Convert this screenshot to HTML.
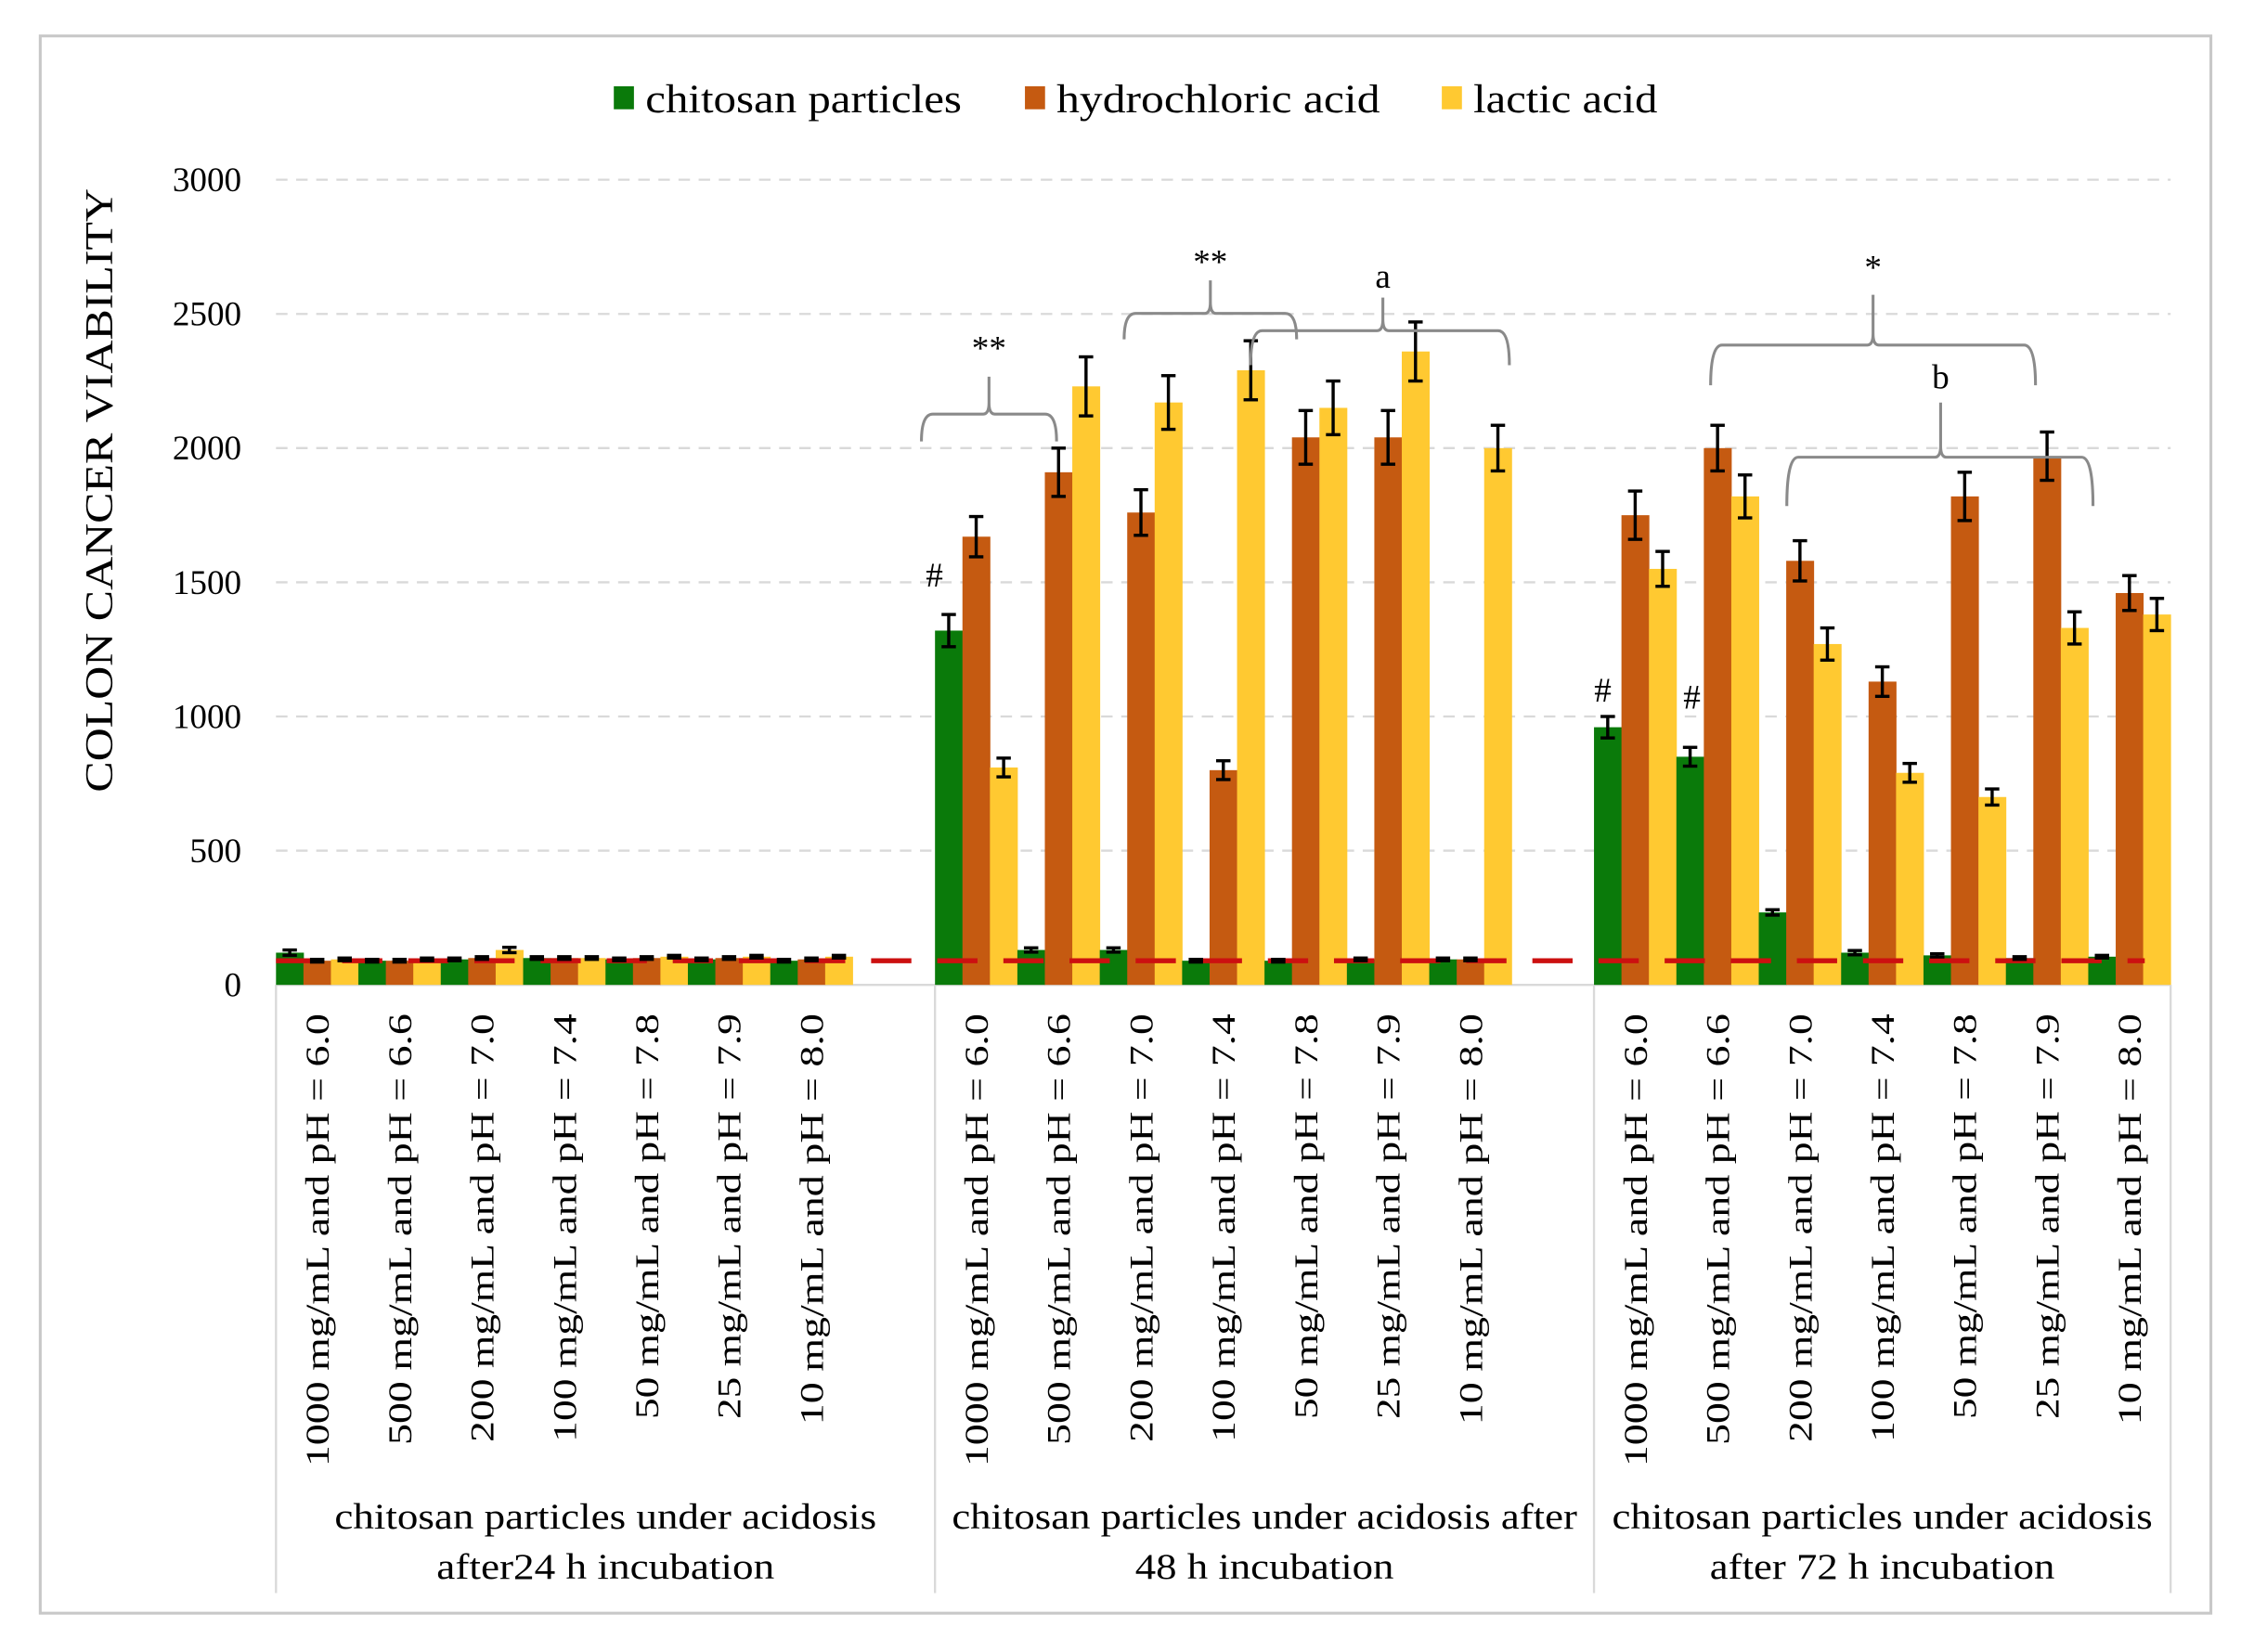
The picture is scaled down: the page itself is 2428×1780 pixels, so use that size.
<!DOCTYPE html>
<html><head><meta charset="utf-8"><style>
html,body{margin:0;padding:0;background:#fff;}
svg{display:block;}
text{font-family:"Liberation Serif",serif;fill:#000;}
</style></head><body>
<svg id="chart" width="2428" height="1780" viewBox="0 0 1568 1149" preserveAspectRatio="none" xmlns="http://www.w3.org/2000/svg">
<rect x="28" y="25" width="1510" height="1097" fill="#fff" stroke="#c8c8c8" stroke-width="2"/>
<g id="legend">
 <rect x="427" y="60" width="14" height="16" fill="#0a7a0a"/>
 <text x="449" y="78" font-size="28" textLength="220" lengthAdjust="spacingAndGlyphs">chitosan particles</text>
 <rect x="713" y="60" width="14" height="16" fill="#c55a11"/>
 <text x="735" y="78" font-size="28" textLength="225" lengthAdjust="spacingAndGlyphs">hydrochloric acid</text>
 <rect x="1003" y="60" width="14" height="16" fill="#ffc931"/>
 <text x="1025" y="78" font-size="28" textLength="128" lengthAdjust="spacingAndGlyphs">lactic acid</text>
</g>
<text transform="translate(78,341) rotate(-90)" text-anchor="middle" font-size="27" fill="#222" textLength="420" lengthAdjust="spacingAndGlyphs">COLON CANCER VIABILITY</text>
<g id="grid"></g><g id="bars"></g><g id="errs"></g><g id="xlabels"></g>
<g id="annot" fill="none" stroke="#8a8a8a" stroke-width="2"></g>
</svg>
<script>
const yTicks = [0,500,1000,1500,2000,2500,3000];
const groups = ["chitosan particles under acidosis|after24 h incubation","chitosan particles under acidosis after|48 h incubation","chitosan particles under acidosis|after 72 h incubation"];
const subLabels = ["1000 mg/mL   and pH = 6.0","500 mg/mL  and pH = 6.6","200 mg/mL  and pH = 7.0","100 mg/mL  and pH = 7.4","50 mg/mL and pH = 7.8","25 mg/mL and pH = 7.9","10 mg/mL   and pH = 8.0"];
const chitosan = [120,90,95,100,95,95,90, 1320,130,130,90,90,95,95, 960,850,270,120,110,100,105];
const hcl      = [90,90,100,100,100,100,95, 1670,1910,1760,800,2040,2040,95, 1750,2000,1580,1130,1820,1970,1460];
const lactic   = [95,95,130,100,105,105,105, 810,2230,2170,2290,2150,2360,2000, 1550,1820,1270,790,700,1330,1380];
const chitosanErr = [10,5,5,5,5,5,5, 60,8,8,5,5,5,5, 40,35,10,8,6,5,5];
const hclErr      = [5,5,5,5,5,5,5, 75,90,85,35,100,100,5, 90,85,75,55,90,90,65];
const lacticErr   = [5,5,10,5,5,5,5, 35,110,100,110,100,110,85, 65,80,60,35,30,60,60];
const refLine = 90;

const NS="http://www.w3.org/2000/svg";
const X0=192, X1=1510, Y0=685, Ytop=125, YMAX=3000, CW=(X1-X0)/23, BW=CW/3;
const subLen=[315,300,298,298,282,282,286];
const grpLen=[[377,235],[435,180],[376,240]];
const grpCenter=[4,4,3.5];
function y(v){return Y0-(v/YMAX)*(Y0-Ytop);}
function catIndex(i){return i<7?i:(i<14?i+1:i+2);}
function cx(i){return X0+catIndex(i)*CW;}
function mk(tag,attrs,parent){const e=document.createElementNS(NS,tag);for(const k in attrs)e.setAttribute(k,attrs[k]);parent.appendChild(e);return e;}
const grid=document.getElementById('grid'),bars=document.getElementById('bars'),errs=document.getElementById('errs'),xl=document.getElementById('xlabels');
yTicks.forEach(t=>{
  if(t>0){const l=mk('line',{x1:X0,x2:X1,y1:y(t),y2:y(t),stroke:'#d9d9d9','stroke-width':1.5,'stroke-dasharray':'8,6'},grid);
  
  }
  const tx=mk('text',{x:168,y:y(t)+8,'text-anchor':'end','font-size':24},grid);
  tx.textContent=t;
  
  
});
const ax=mk('line',{x1:X0,x2:X1,y1:Y0,y2:Y0,stroke:'#d9d9d9','stroke-width':1.5},grid);


[0,8,16,23].forEach(c=>{const l=mk('line',{x1:X0+c*CW,x2:X0+c*CW,y1:Y0,y2:1108,stroke:'#d9d9d9','stroke-width':1.5},grid);

});
const series=[[chitosan,chitosanErr,'#0a7a0a','bar-chitosan'],[hcl,hclErr,'#c55a11','bar-hcl'],[lactic,lacticErr,'#ffc931','bar-lactic']];
for(let i=0;i<21;i++){
  series.forEach((s,k)=>{
    const v=s[0][i],e=s[1][i],x=cx(i)+k*BW;
    const r=mk('rect',{x:x,y:y(v),width:BW+0.3,height:Y0-y(v),fill:s[2]},bars);
    
    
    const m=x+BW/2,g=mk('g',{stroke:'#000','stroke-width':2.2},errs);
    
    
    mk('line',{x1:m,x2:m,y1:y(v+e),y2:y(v-e)},g);
    mk('line',{x1:m-5,x2:m+5,y1:y(v+e),y2:y(v+e)},g);
    mk('line',{x1:m-5,x2:m+5,y1:y(v-e),y2:y(v-e)},g);
  });
  const t=mk('text',{transform:`translate(${cx(i)+CW/2+8},705) rotate(-90)`,'text-anchor':'end','font-size':23,textLength:subLen[i%7],lengthAdjust:'spacingAndGlyphs'},xl);
  t.textContent=subLabels[i%7];
  
  
}
groups.forEach((g,j)=>{
  const c=X0+(j*8+grpCenter[j])*CW;const p=g.split('|');
  p.forEach((line,n)=>{const t=mk('text',{x:c,y:1063+n*35,'text-anchor':'middle','font-size':25,textLength:grpLen[j][n],lengthAdjust:'spacingAndGlyphs'},xl);
  t.textContent=line;
  
  });
});
const rl=mk('line',{x1:X0,x2:1492,y1:y(refLine),y2:y(refLine),stroke:'#cc1010','stroke-width':3.5,'stroke-dasharray':'28,18'},bars);


const an=document.getElementById('annot');
function brace(xa,xb,yb,yend,xm,ytop,label,ly){
  const d=`M${xa},${yend} Q${xa},${yb} ${xa+8},${yb} L${xm-4},${yb} Q${xm},${yb} ${xm},${yb-8} L${xm},${ytop} M${xm},${yb-8} Q${xm},${yb} ${xm+4},${yb} L${xb-8},${yb} Q${xb},${yb} ${xb},${yend}`;
  const p=mk('path',{d:d},an);
  
  
  const t=mk('text',{x:xm,y:ly,'text-anchor':'middle','font-size':24,stroke:'none',fill:'#000'},an);
  t.textContent=label;
  
  
}
brace(641,735,288,307,688,262,'**',250);
brace(782,902,218,236,842,195,'**',190);
brace(870,1050,230,254,962,207,'a',200);
brace(1190,1416,240,268,1303,205,'*',194);
brace(1243,1456,318,352,1350,280,'b',270);
[[650,408],[1115,488],[1177,493]].forEach(p=>{const t=mk('text',{x:p[0],y:p[1],'text-anchor':'middle','font-size':24,stroke:'none',fill:'#000'},an);
t.textContent='#';

});
</script>
</body></html>
